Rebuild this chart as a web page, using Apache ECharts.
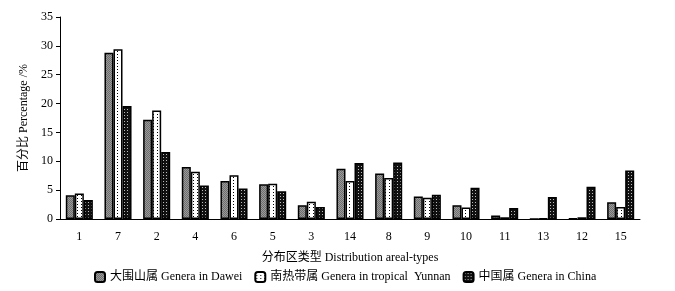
<!DOCTYPE html>
<html><head><meta charset="utf-8">
<script src="https://cdn.jsdelivr.net/npm/echarts@6/dist/echarts.min.js"></script>
<style>html,body{margin:0;padding:0;background:#fff}#c{width:675px;height:291px}</style>
</head><body><div id="c"></div>
<script>
const categories = ['1','7','2','4','6','5','3','14','8','9','10','11','13','12','15'];
const dawei =    [4.1, 28.8, 17.2, 9.0, 6.6, 6.0, 2.4, 8.7, 7.9, 3.9, 2.4, 0.6, 0.0, 0.1, 2.9];
const tropical = [4.4, 29.4, 18.8, 8.2, 7.6, 6.1, 3.0, 6.6, 7.1, 3.7, 2.0, 0.3, 0.1, 0.3, 2.1];
const china =    [3.3, 19.6, 11.6, 5.8, 5.3, 4.8, 2.1, 9.7, 9.8, 4.2, 5.4, 1.9, 3.8, 5.6, 8.4];
const seriesNames = ['大围山属 Genera in Dawei', '南热带属 Genera in tropical  Yunnan', '中国属 Genera in China'];
const yTicks = [0, 35, 5];

function pat(draw, w, h) {
  const c = document.createElement('canvas'); c.width = w; c.height = h;
  const g = c.getContext('2d'); draw(g); return c;
}
const grayPat = pat(g => {
  g.fillStyle = '#9a9a9a'; g.fillRect(0,0,2,2);
  g.fillStyle = '#6e6e6e'; g.fillRect(0,0,1,1); g.fillRect(1,1,1,1);
}, 2, 2);
const dotPat = pat(g => {
  g.fillStyle = '#fff'; g.fillRect(0,0,4,4);
  g.fillStyle = '#000'; g.fillRect(1,0,1,1);
}, 4, 3);
const blackPat = pat(g => {
  g.fillStyle = '#111'; g.fillRect(0,0,3,3);
  g.fillStyle = '#bbb'; g.fillRect(1,1,1,1);
}, 3, 3);
const pats = [grayPat, dotPat, blackPat];
const data = [dawei, tropical, china];

const font = '"Liberation Serif", "Noto Sans CJK SC", serif';
const chart = echarts.init(document.getElementById('c'), null, {renderer: 'canvas'});
chart.setOption({
  animation: false,
  textStyle: {fontFamily: font, color: '#000'},
  grid: {left: 60, right: 35, top: 17, bottom: 72},
  legend: {
    bottom: 3, left: 89, itemWidth: 10, itemHeight: 10, itemGap: 12,
    textStyle: {fontFamily: font, fontSize: 12, color: '#000'},
    data: seriesNames
  },
  xAxis: {
    type: 'category', data: categories,
    name: '分布区类型 Distribution areal-types', nameLocation: 'middle', nameGap: 33,
    nameTextStyle: {fontFamily: font, fontSize: 12, color: '#000'},
    axisLine: {lineStyle: {color: '#000', width: 1}},
    axisTick: {inside: true, length: 3, lineStyle: {color: '#000', width: 2}},
    axisLabel: {fontFamily: font, fontSize: 12, color: '#000', margin: 12}
  },
  yAxis: {
    type: 'value', min: yTicks[0], max: yTicks[1], interval: yTicks[2],
    name: '百分比 Percentage /%', nameLocation: 'middle', nameGap: 28, nameRotate: 90,
    nameTextStyle: {fontFamily: font, fontSize: 12, color: '#000'},
    axisLine: {show: true, lineStyle: {color: '#000'}},
    axisTick: {show: true, length: 4, lineStyle: {color: '#000'}},
    splitLine: {show: false},
    axisLabel: {fontFamily: font, fontSize: 12, color: '#000', margin: 7}
  },
  series: data.map((d, i) => ({
    name: seriesNames[i], type: 'bar', data: d,
    barGap: '0%', barCategoryGap: '30%',
    itemStyle: {color: {image: pats[i], repeat: 'repeat'}, borderColor: '#000', borderWidth: 1.5}
  }))
});
</script></body></html>
